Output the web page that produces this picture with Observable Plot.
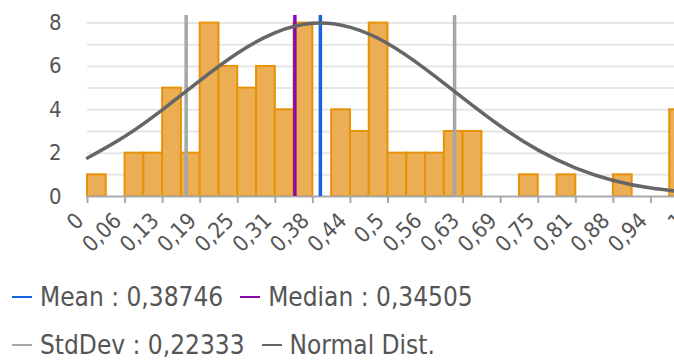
<!DOCTYPE html>
<html>
<head>
<meta charset="utf-8">
<script src="https://cdn.jsdelivr.net/npm/d3@7"></script>
<script src="https://cdn.jsdelivr.net/npm/@observablehq/plot@0.6"></script>
<style>
  html, body { margin: 0; padding: 0; background: #fff; overflow: hidden; width: 674px; height: 360px; }
  #chart { width: 674px; height: 256px; overflow: visible; }
  #chart svg { display: block; max-width: none !important; width: 700px !important; height: 256px !important; }
  .legend { font-family: "DejaVu Sans Condensed", "DejaVu Sans", sans-serif; font-size: 26px; color: #555; padding-left: 12px; }
  .row { display: flex; align-items: center; height: 48px; white-space: nowrap; }
  .item { display: flex; align-items: center; margin-right: 17px; }
  .dash { display: inline-block; width: 20px; height: 2px; margin-right: 8px; }
</style>
</head>
<body>
<div id="chart"></div>
<div class="legend" id="legend"></div>
<script>
// Histogram bins (width 1/32 from 0 to 1)
const binWidth = 1 / 32;
const binCounts = [1, 0, 2, 2, 5, 2, 8, 6, 5, 6, 4, 8, 0, 4, 3, 8,
                   2, 2, 2, 3, 3, 0, 0, 1, 0, 1, 0, 0, 1, 0, 0, 4];

// Statistics
const meanValue = 0.38746;
const medianValue = 0.34505;
const stdDevValue = 0.22333;

// Normal distribution curve
const curveX = [0, 0.0625, 0.125, 0.1875, 0.25, 0.3125, 0.375, 0.4375, 0.5,
                0.5625, 0.625, 0.6875, 0.75, 0.8125, 0.875, 0.9375, 1];
const curveY = [1.78, 2.78, 4.01, 5.36, 6.62, 7.56, 7.99, 7.80, 7.05,
                5.88, 4.54, 3.24, 2.14, 1.31, 0.74, 0.39, 0.19];

// Axis ticks
const xTickValues = d3.range(0, 17).map(k => k / 16);
const xTickLabels = ["0", "0,06", "0,13", "0,19", "0,25", "0,31", "0,38", "0,44", "0,5",
                     "0,56", "0,63", "0,69", "0,75", "0,81", "0,88", "0,94", "1"];
const yTickValues = [0, 2, 4, 6, 8];
const yTickLabels = ["0", "2", "4", "6", "8"];
const yGrid = [1, 2, 3, 4, 5, 6, 7, 8];

// Legend
const legendRows = [
  [{label: "Mean : 0,38746", color: "#1464e0"}, {label: "Median : 0,34505", color: "#8a0aa8"}],
  [{label: "StdDev : 0,22333", color: "#a6a6a6"}, {label: "Normal Dist.", color: "#666666"}]
];

const bins = binCounts.map((c, i) => ({x1: i * binWidth, x2: (i + 1) * binWidth, count: c}));
const curve = curveX.map((x, i) => ({x, y: curveY[i]}));
const yTop = 8.35;
const fontStack = '"DejaVu Sans Condensed", "DejaVu Sans", sans-serif';

const chart = Plot.plot({
  width: 700,
  height: 256,
  marginLeft: 87,
  marginRight: 12,
  marginTop: 15,
  marginBottom: 60,
  style: {fontFamily: fontStack, fontSize: "22px", color: "#555", background: "#fff", overflow: "visible"},
  x: {domain: [0, 1]},
  y: {domain: [0, yTop]},
  marks: [
    Plot.ruleY(yGrid, {stroke: "#e6e6e6", strokeWidth: 2}),
    Plot.rectY(bins.filter(d => d.count > 0), {x1: "x1", x2: "x2", y: "count", fill: "#ebae55", stroke: "#e8920a", strokeWidth: 2, insetLeft: 0, insetRight: 0}),
    Plot.ruleY([0], {stroke: "#aaaaaa", strokeWidth: 2}),
    Plot.axisX({ticks: xTickValues, tickSize: 7, stroke: "#aaaaaa", strokeWidth: 2, text: null, label: null}),
    Plot.text(xTickValues, {x: d => d, frameAnchor: "bottom", text: d => xTickLabels[xTickValues.indexOf(d)], rotate: -45, textAnchor: "end", lineAnchor: "middle", dx: -7.5, dy: 20.5, fontSize: 22, fill: "#555"}),
    Plot.axisY({ticks: yTickValues, tickFormat: d => yTickLabels[yTickValues.indexOf(d)], tickSize: 0, tickPadding: 26, fontSize: 22, fill: "#555", label: null}),
    Plot.ruleX([meanValue - stdDevValue, meanValue + stdDevValue], {y1: 0, y2: yTop, stroke: "#a6a6a6", strokeWidth: 3.5}),
    Plot.ruleX([medianValue], {y1: 0, y2: yTop, stroke: "#8a0aa8", strokeWidth: 3.5}),
    Plot.ruleX([meanValue], {y1: 0, y2: yTop, stroke: "#1464e0", strokeWidth: 3.5}),
    Plot.line(curve, {x: "x", y: "y", curve: "natural", stroke: "#666666", strokeWidth: 3.5})
  ]
});
document.getElementById("chart").appendChild(chart);

const legend = document.getElementById("legend");
legend.style.paddingTop = "17px";
for (const row of legendRows) {
  const r = document.createElement("div");
  r.className = "row";
  for (const it of row) {
    const item = document.createElement("div");
    item.className = "item";
    const dash = document.createElement("span");
    dash.className = "dash";
    dash.style.background = it.color;
    const txt = document.createElement("span");
    txt.textContent = it.label;
    item.appendChild(dash);
    item.appendChild(txt);
    r.appendChild(item);
  }
  legend.appendChild(r);
}
</script>
</body>
</html>
